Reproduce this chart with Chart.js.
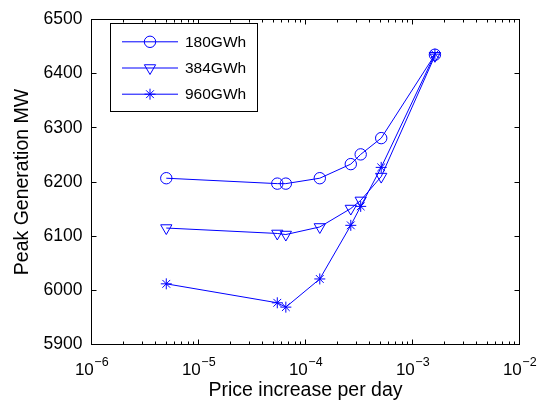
<!DOCTYPE html>
<html><head><meta charset="utf-8">
<script src="https://cdn.jsdelivr.net/npm/chart.js@4/dist/chart.umd.min.js"></script>
<style>html,body{margin:0;padding:0;background:#fff;}#wrap{width:542px;height:405px;position:relative;}</style>
</head><body><div id="wrap"><canvas id="c"></canvas></div>
<script>
// ---- data ----
const priceIncrease = [5e-6, 5.45e-5, 6.55e-5, 1.36e-4, 2.65e-4, 3.28e-4, 5.1e-4, 1.62e-3];
const peak180 = [6207, 6197, 6197, 6207, 6233, 6251, 6281, 6435];
const peak384 = [6115, 6105, 6103, 6117, 6151, 6166, 6210, 6433];
const peak960 = [6012, 5977, 5969, 6021, 6120, 6155, 6227, 6436];
const seriesNames = ['180GWh', '384GWh', '960GWh'];
const xTickExponents = [-6, -5, -4, -3, -2];
const yTickValues = [5900, 6000, 6100, 6200, 6300, 6400, 6500];
const xTitle = 'Price increase per day';
const yTitle = 'Peak Generation MW';

const FONT = '"Liberation Sans", Arial, Helvetica, sans-serif';
const BLUE = '#0000ff';
Chart.defaults.font.family = FONT;
Chart.defaults.color = '#000';

function pts(ys) { return priceIncrease.map((x, i) => ({x: x, y: ys[i]})); }

const styles = [
  {pointStyle: 'circle', pointRadius: 5.7, pointRotation: 0},
  {pointStyle: 'triangle', pointRadius: 6.5, pointRotation: 180},
  {pointStyle: 'star', pointRadius: 5.5, pointRotation: 0}
];
const series = [peak180, peak384, peak960];

const datasets = series.map((s, i) => ({
  label: seriesNames[i],
  data: pts(s),
  borderColor: BLUE,
  borderWidth: 1,
  tension: 0,
  fill: false,
  pointStyle: styles[i].pointStyle,
  pointRadius: styles[i].pointRadius,
  pointRotation: styles[i].pointRotation,
  pointBorderColor: BLUE,
  pointBackgroundColor: 'rgba(0,0,0,0)',
  pointBorderWidth: 1,
  pointHoverRadius: styles[i].pointRadius
}));

function crisp(v) { return Math.round(v - 0.5) + 0.5; }

const axesPlugin = {
  id: 'matlabAxes',
  afterDatasetsDraw(chart) {
    const {ctx, chartArea: a, scales: {x, y}} = chart;
    ctx.save();
    ctx.strokeStyle = '#000';
    ctx.lineWidth = 1;
    ctx.beginPath();
    // x ticks (major + minor), inward on bottom and top
    for (let k = 0; k < xTickExponents.length; k++) {
      const e = xTickExponents[k];
      const mults = k < xTickExponents.length - 1 ? [1,2,3,4,5,6,7,8,9] : [1];
      for (const m of mults) {
        const px = crisp(x.getPixelForValue(m * Math.pow(10, e)));
        const len = m === 1 ? 5 : 3;
        ctx.moveTo(px, a.bottom); ctx.lineTo(px, a.bottom - len);
        ctx.moveTo(px, a.top); ctx.lineTo(px, a.top + len);
      }
    }
    // y ticks inward left and right
    for (const v of yTickValues) {
      const py = crisp(y.getPixelForValue(v));
      ctx.moveTo(a.left, py); ctx.lineTo(a.left + 5, py);
      ctx.moveTo(a.right, py); ctx.lineTo(a.right - 5, py);
    }
    ctx.stroke();
    // box
    ctx.strokeRect(a.left, a.top, a.right - a.left, a.bottom - a.top);

    // x tick labels 10^e
    ctx.fillStyle = '#000';
    ctx.textBaseline = 'alphabetic';
    ctx.textAlign = 'left';
    const bigFont = '17px ' + FONT, supFont = '12.5px ' + FONT;
    for (const e of xTickExponents) {
      const px = x.getPixelForValue(Math.pow(10, e));
      const base = '10', sup = '\u2212' + Math.abs(e);
      ctx.font = bigFont; const wb = ctx.measureText(base).width;
      ctx.font = supFont; const ws = ctx.measureText(sup).width;
      const start = px - (wb + ws) / 2;
      ctx.font = bigFont; ctx.fillText(base, start, a.bottom + 30);
      ctx.font = supFont; ctx.fillText(sup, start + wb + 0.5, a.bottom + 21.5);
    }

    // legend
    const L = {left: 110.5, top: 23.5, right: 257.5, bottom: 111.5};
    ctx.fillStyle = '#fff';
    ctx.fillRect(L.left, L.top, L.right - L.left, L.bottom - L.top);
    ctx.strokeStyle = '#000';
    ctx.strokeRect(L.left, L.top, L.right - L.left, L.bottom - L.top);
    const rows = [41.8, 68, 94.2];
    chart.data.datasets.forEach((ds, i) => {
      const yy = rows[i];
      ctx.strokeStyle = ds.borderColor;
      ctx.lineWidth = ds.borderWidth;
      ctx.beginPath(); ctx.moveTo(122, yy); ctx.lineTo(178, yy); ctx.stroke();
      ctx.fillStyle = 'rgba(0,0,0,0)';
      ctx.strokeStyle = ds.pointBorderColor;
      Chart.helpers.drawPoint(ctx, {pointStyle: ds.pointStyle, radius: ds.pointRadius,
        rotation: ds.pointRotation, borderWidth: 1}, 150, yy);
      ctx.fillStyle = '#000';
      ctx.font = '15.5px ' + FONT;
      ctx.textBaseline = 'middle';
      ctx.fillText(ds.label, 185, yy + 0.5);
    });
    ctx.restore();
  }
};

new Chart(document.getElementById('c'), {
  type: 'line',
  data: {datasets: datasets},
  plugins: [axesPlugin],
  options: {
    responsive: true,
    maintainAspectRatio: false,
    animation: false,
    devicePixelRatio: 1,
    events: [],
    layout: {padding: {left: 0, right: 22.5, top: 12.5, bottom: 0}},
    plugins: {legend: {display: false}, tooltip: {enabled: false}},
    scales: {
      x: {
        type: 'logarithmic',
        min: 1e-6, max: 1e-2,
        grid: {display: false, drawTicks: false},
        border: {display: false},
        ticks: {callback: () => '', autoSkip: false},
        title: {display: true, text: xTitle, font: {size: 19.5}, color: '#000', padding: {top: 0, bottom: 2.8}},
        afterFit: s => { s.height = 60.5; }
      },
      y: {
        type: 'linear',
        min: 5900, max: 6500,
        afterBuildTicks: s => { s.ticks = yTickValues.map(v => ({value: v})); },
        grid: {display: false, drawTicks: false},
        border: {display: false},
        ticks: {font: {size: 17.5}, color: '#000', padding: 9, callback: v => String(v)},
        title: {display: true, text: yTitle, font: {size: 19.5}, color: '#000', padding: {top: 10.5, bottom: 0}},
        afterFit: s => { s.width = 91.5; }
      }
    }
  }
});
</script></body></html>
